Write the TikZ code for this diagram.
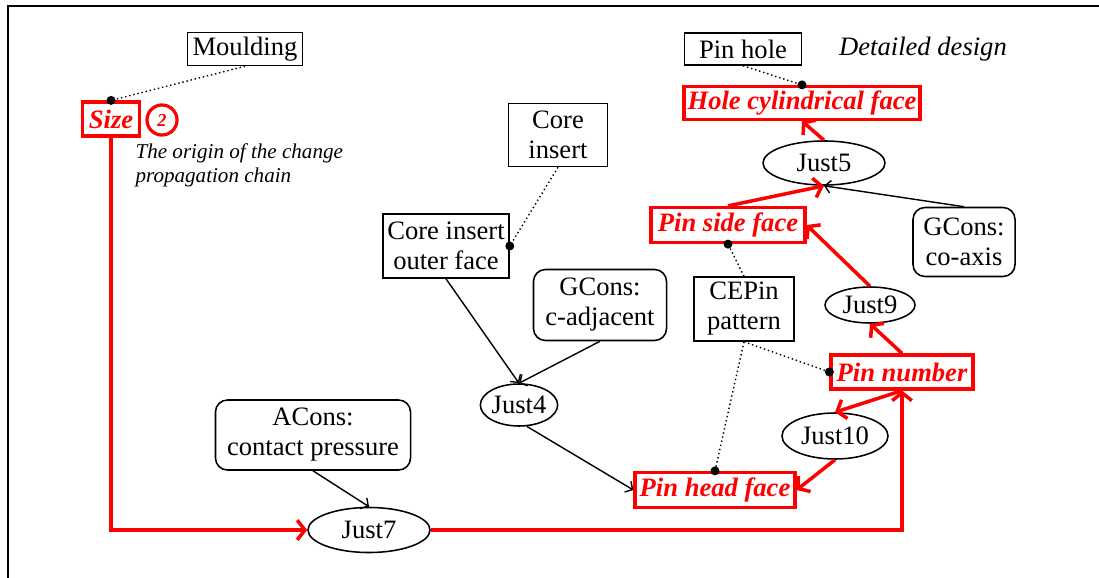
\documentclass[tikz,border=0pt]{standalone}
\usepackage{fontspec}
\setmainfont{Liberation Serif}
\usepackage{tikz}
\usetikzlibrary{shapes.geometric,arrows.meta}

\begin{document}
\begin{tikzpicture}[x=0.025cm,y=-0.025cm,style=thick]
\newcommand{\fs}{\fontsize{18.9}{21.3}\selectfont}
\useasboundingbox (0,0) rectangle (1099,578);
\draw [line width=1.4pt] (8,578) -- (8,6) -- (1099,6);
\begin{scope}[inner sep=0pt,align=center]
\tikzstyle{every node}=[font=\fs]
\tikzstyle{part}=[draw,line width=1.1pt]
\tikzstyle{cons}=[draw,line width=1.1pt,rounded corners=0.3cm]
\tikzstyle{just}=[draw,ellipse,line width=1.1pt]
\tikzstyle{chg}=[draw=red,line width=2.3pt,text=red,font=\fs\bfseries\itshape]
\tikzstyle{dep}=[red,line width=2.5pt,-{Straight Barb[length=5.5pt,width=14pt]}]
\tikzstyle{lnk}=[line width=1pt,-{Straight Barb[length=4pt,width=9pt]}]
\tikzstyle{asc}=[dotted,line width=1pt]
% parts and features
\node[part,minimum width=2.875cm,minimum height=0.825cm] (Moulding) at (245,49) {Moulding};
\node[chg,minimum width=1.425cm,minimum height=0.85cm] (Size) at (111,119) {Size};
\node[draw=red,circle,line width=2.3pt,text=red,minimum size=0.75cm,font=\fontsize{13}{15}\selectfont\bfseries\itshape] (Step) at (162,120) {2};
\node[anchor=west,align=left,font=\fontsize{15}{17}\selectfont\itshape] (Note) at (135,165) {The origin of the change\\propagation chain};
\node[part,minimum width=2.925cm,minimum height=0.8cm] (Pin_hole) at (743,49) {Pin hole};
\node[font=\fs\itshape] (Stage) at (923,49) {Detailed design};
\node[chg,minimum width=5.9cm,minimum height=0.825cm] (Hole_face) at (802,103) {Hole cylindrical face};
\node[just,minimum width=3.05cm,minimum height=1.1cm] (Just5) at (824,163) {Just5};
\node[chg,minimum width=3.85cm,minimum height=0.875cm] (Pin_side) at (728,225) {Pin side face};
\node[cons,minimum width=2.55cm,minimum height=1.725cm] (Coaxis) at (964,242) {GCons:\\co-axis};
\node[just,minimum width=2.25cm,minimum height=0.9cm] (Just9) at (870,305) {Just9};
\node[part,minimum width=2.5cm,minimum height=1.6cm] (CEPin) at (744,309) {CEPin\\pattern};
\node[chg,minimum width=3.55cm,minimum height=0.85cm] (Pin_number) at (902,372) {Pin number};
\node[part,minimum width=2.475cm,minimum height=1.575cm] (Core) at (558,135) {Core\\insert};
\node[part,minimum width=3.15cm,minimum height=1.6cm] (Core_face) at (446,246) {Core insert\\outer face};
\node[cons,minimum width=3.325cm,minimum height=1.775cm] (Cadj) at (600,305) {GCons:\\c-adjacent};
\node[just,minimum width=1.9cm,minimum height=1.05cm] (Just4) at (519,405) {Just4};
\node[cons,minimum width=4.875cm,minimum height=1.75cm] (Contact) at (313,435) {ACons:\\contact pressure};
\node[just,minimum width=3.05cm,minimum height=1.125cm] (Just7) at (369,530) {Just7};
\node[just,minimum width=2.65cm,minimum height=1.15cm] (Just10) at (835,436) {Just10};
\node[chg,minimum width=4cm,minimum height=0.875cm] (Pin_head) at (715,490) {Pin head face};
% propagation chain
\draw [dep] (Size.south) |- (Just7.west);
\draw [dep] (Just7.east) -| (Pin_number.south);
\draw [dep] (Pin_number.south) -- (Just10.north);
\draw [dep] (Just10.south) -- (Pin_head.east);
\draw [dep] (Pin_number.north) -- (Just9.south);
\draw [dep] (Just9.north) -- (Pin_side.east);
\draw [dep] (Pin_side.north) -- (Just5.south);
\draw [dep] (Just5.north) -- (Hole_face.south);
% constraints
\draw [lnk] (Coaxis.north) -- (Just5.south);
\draw [lnk] (Core_face.south) -- (Just4.north);
\draw [lnk] (Cadj.south) -- (Just4.north);
\draw [lnk] (Just4.-70) -- (Pin_head.west);
\draw [lnk] (Contact.south) -- (Just7.north);
% feature to part
\draw [asc] (Moulding.south) -- (Size.north);
\draw [asc] (Pin_hole.south) -- (Hole_face.north);
\draw [asc] (Core.south) -- (Core_face.east);
\draw [asc] (CEPin.north) -- (Pin_side.south);
\draw [asc] (CEPin.south) -- (Pin_number.west);
\draw [asc] (CEPin.south) -- (Pin_head.north);
\foreach \f in {Size.north,Hole_face.north,Core_face.east,Pin_side.south,Pin_number.west,Pin_head.north}
  \fill (\f) circle (3.2pt);
\end{scope}
\end{tikzpicture}
\end{document}
